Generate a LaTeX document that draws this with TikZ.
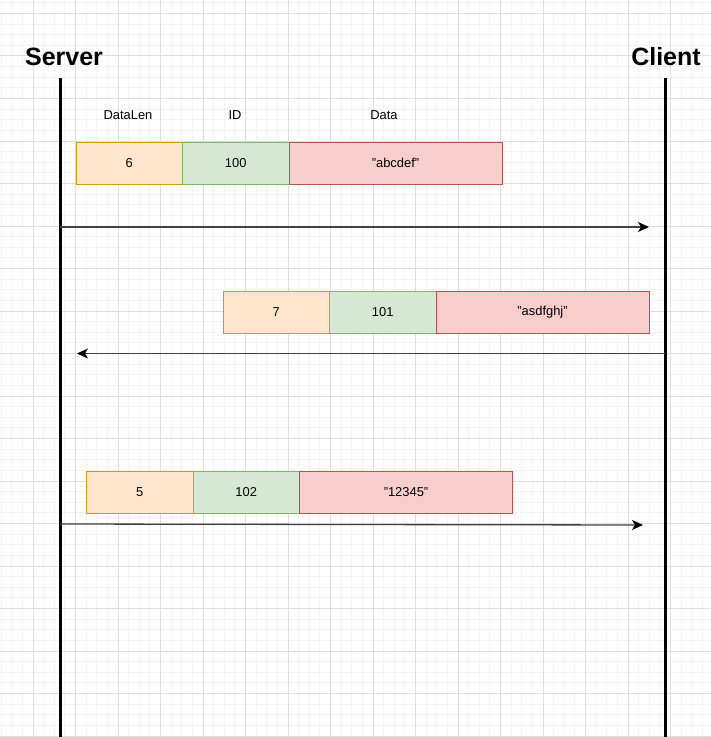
\documentclass[tikz,border=0pt]{standalone}
\usepackage{fontspec}
\setmainfont{Liberation Sans}
\usetikzlibrary{arrows.meta}
\definecolor{gmin}{HTML}{F3F3F3}
\definecolor{gmaj}{HTML}{DEDEDE}
\definecolor{ofill}{HTML}{FFE6CC}
\definecolor{ostroke}{HTML}{D79B00}
\definecolor{gfill}{HTML}{D5E8D4}
\definecolor{gstroke}{HTML}{82B366}
\definecolor{rfill}{HTML}{F8CECC}
\definecolor{rstroke}{HTML}{B85450}
\tikzset{
  fld/.style={draw, line width=1bp, minimum height=42bp, inner sep=0pt, outer sep=0pt, anchor=north west,
    font=\fontsize{12.9bp}{15bp}\selectfont},
  ofld/.style={fld, fill=ofill, draw=ostroke, minimum width=106.5bp},
  gfld/.style={fld, fill=gfill, draw=gstroke, minimum width=106.5bp},
  rfld/.style={fld, fill=rfill, draw=rstroke, minimum width=213bp},
  lbl/.style={font=\fontsize{12.9bp}{15bp}\selectfont, inner sep=0pt},
  actor/.style={font=\bfseries\fontsize{25bp}{30bp}\selectfont, inner sep=0pt},
  life/.style={line width=3bp, black},
  msg/.style={line width=1.3bp, black!75, -{Stealth[length=11bp,width=10bp,inset=3bp,black]}}
}
\begin{document}
\begin{tikzpicture}[x=1bp,y=-1bp]
\useasboundingbox (0,0) rectangle (711,737);
\fill[white] (0,0) rectangle (711,737);
% grid
\foreach \i in {-3,...,64} {
  \pgfmathsetmacro{\gx}{33+10.625*\i}
  \draw[gmin, line width=1bp] (\gx,0) -- (\gx,737);
}
\foreach \i in {-1,...,68} {
  \pgfmathsetmacro{\gy}{13.5+10.625*\i}
  \draw[gmin, line width=1bp] (0,\gy) -- (711,\gy);
}
\foreach \i in {0,...,16} {
  \pgfmathsetmacro{\gx}{33+42.5*\i}
  \draw[gmaj, line width=1bp] (\gx,0) -- (\gx,737);
}
\foreach \i in {0,...,17} {
  \pgfmathsetmacro{\gy}{13.5+42.5*\i}
  \draw[gmaj, line width=1bp] (0,\gy) -- (711,\gy);
}
% actors
\node[actor] (server) at (64,57) {Server};
\node[actor] (client) at (666,57) {Client};
\coordinate (sTop) at (60,78);
\coordinate (sBot) at (60,737);
\coordinate (cTop) at (665,78);
\coordinate (cBot) at (665,737);
\draw[life] (sTop) -- (sBot);
\draw[life] (cTop) -- (cBot);
% header labels
\node[lbl] (hLen) at (128,115) {DataLen};
\node[lbl] (hID) at (235,115) {ID};
\node[lbl] (hData) at (384,115) {Data};
% row 1
\node[ofld] (len1) at (76,142) {6};
\node[gfld] (id1) at (len1.north east) {100};
\node[rfld] (dat1) at (id1.north east) {"abcdef"};
\coordinate (m1s) at (60,227);
\coordinate (m1e) at (649,227);
\draw[msg] (m1s) -- (m1e);
% row 2
\node[ofld] (len2) at (223,291) {7};
\node[gfld] (id2) at (len2.north east) {101};
\node[rfld] (dat2) at (id2.north east) {"asdfghj"};
\coordinate (m2s) at (665,353.5);
\coordinate (m2e) at (77,353.5);
\draw[msg] (m2s) -- (m2e);
% row 3
\node[ofld] (len3) at (86.5,471) {5};
\node[gfld] (id3) at (len3.north east) {102};
\node[rfld] (dat3) at (id3.north east) {"12345"};
\coordinate (m3s) at (60,524);
\coordinate (m3e) at (643,525);
\draw[msg] (m3s) -- (m3e);
\end{tikzpicture}
\end{document}
